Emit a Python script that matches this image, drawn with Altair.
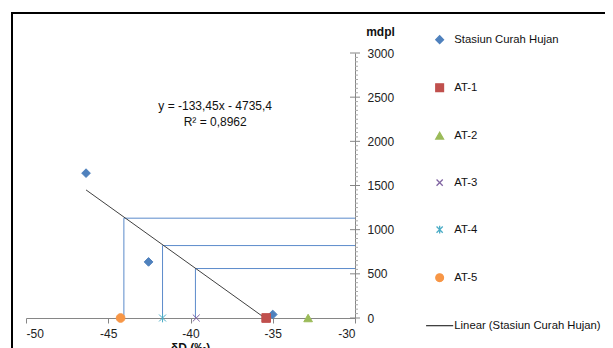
import altair as alt
import pandas as pd

# ---- data ----
stasiun_x = [-46.35, -42.55, -35.0]
stasiun_y = [1640, 635, 40]

at_names = ["AT-1", "AT-2", "AT-3", "AT-4", "AT-5"]
at_x = [-35.4, -32.85, -39.65, -41.7, -44.25]
at_y = [0, 0, 0, 0, 0]

proj_x = [-44.05, -41.7, -39.7]
proj_y = [1130, 820, 560]

trend_x = [-46.35, -35.48]
trend_y = [1450, 0]

x_ticks = [-50, -45, -40, -35, -30]
y_ticks = [0, 500, 1000, 1500, 2000, 2500, 3000]
y_minor = [v for v in range(0, 3001, 50) if v % 500 != 0]

eq_lines = ["y = -133,45x - 4735,4", "R² = 0,8962"]
eq_x = [-38.5, -38.5]
eq_y = [2400, 2220]

series_names = ["Stasiun Curah Hujan"] + at_names + ["Linear (Stasiun Curah Hujan)"]
series_colors = ["#4F81BD", "#C0504D", "#9BBB59", "#8064A2", "#4BACC6", "#F79646", "#404040"]
series_shapes = [
    "diamond", "square", "triangle-up",
    "M-0.8,-0.8L0.8,0.8M-0.8,0.8L0.8,-0.8",
    "M-0.8,-0.8L0.8,0.8M-0.8,0.8L0.8,-0.8M0,-1L0,1",
    "circle",
    "M-3.5,0L3.5,0",
]

# ---- tables ----
pts = pd.DataFrame({
    "series": ["Stasiun Curah Hujan"] * len(stasiun_x) + at_names,
    "x": stasiun_x + at_x,
    "y": stasiun_y + at_y,
})
proj = pd.DataFrame({"px": proj_x, "py": proj_y, "y0": [0] * len(proj_x), "xe": [-30] * len(proj_x)})
trend = pd.DataFrame({"x": trend_x, "y": trend_y})
major = pd.DataFrame({"v": y_ticks})
minor = pd.DataFrame({"v": y_minor})
eq = pd.DataFrame({"t": eq_lines, "x": eq_x, "y": eq_y})

W, H = 329, 265
FONT = "Liberation Sans"
AX = "#868686"
BLUE = "#5B8BCB"
MINUS = "replace(datum.label, '\u2212', '-')"

xscale = alt.Scale(domain=[-50, -30], nice=False, zero=False)
yscale = alt.Scale(domain=[0, 3000], nice=False, zero=False)
xaxis = alt.Axis(values=x_ticks, grid=False, domainColor=AX, tickColor=AX, tickSize=5,
                 format="d", labelExpr=MINUS,
                 labelFontSize=12, labelColor="#222", labelPadding=5, labelFont=FONT,
                 title="δD (‰)", titleFont=FONT, titleFontSize=12, titleFontWeight="bold",
                 titleColor="#111", titleX=164, titleY=29, titleBaseline="middle")
yaxis = alt.Axis(orient="right", values=y_ticks, grid=False, domainColor=AX, ticks=False,
                 format="d",
                 labelFontSize=12, labelColor="#222", labelPadding=12, labelFont=FONT,
                 title="mdpl", titleFont=FONT, titleFontSize=12, titleFontWeight="bold",
                 titleColor="#111", titleAngle=0, titleX=25, titleY=-22,
                 titleAlign="center", titleBaseline="middle")


def X(f):
    return alt.X(f, type="quantitative", scale=xscale, axis=xaxis)


def Y(f):
    return alt.Y(f, type="quantitative", scale=yscale, axis=yaxis)


vert = alt.Chart(proj).mark_rule(color=BLUE, strokeWidth=1).encode(
    x=X("px"), y=Y("y0"), y2=alt.Y2("py"))
horiz = alt.Chart(proj).mark_rule(color=BLUE, strokeWidth=1).encode(
    x=X("px"), x2=alt.X2("xe"), y=Y("py"))
line = alt.Chart(trend).mark_line(color="#404040", strokeWidth=1).encode(x=X("x"), y=Y("y"))

major_t = alt.Chart(major).mark_rule(color=AX, strokeWidth=1).encode(
    x=alt.value(W - 5), x2=alt.value(W + 5), y=Y("v"))
minor_t = alt.Chart(minor).mark_rule(color="#AAAAAA", strokeWidth=1).encode(
    x=alt.value(W), x2=alt.value(W + 3), y=Y("v"))

leg = alt.Legend(title=None, orient="none", legendX=408, legendY=-19, padding=0,
                 symbolSize=60, symbolStrokeWidth=1.3, labelFontSize=11.3, labelFont=FONT,
                 labelColor="#111", labelOffset=9, rowPadding=34, labelLimit=300)

points = alt.Chart(pts).mark_point(size=75, opacity=1, strokeWidth=1).encode(
    x=X("x"), y=Y("y"),
    fill=alt.Fill("series:N", scale=alt.Scale(domain=series_names, range=series_colors), legend=leg),
    stroke=alt.Stroke("series:N", scale=alt.Scale(domain=series_names, range=series_colors), legend=leg),
    shape=alt.Shape("series:N", scale=alt.Scale(domain=series_names, range=series_shapes), legend=leg),
)

eq_text = alt.Chart(eq).mark_text(font=FONT, fontSize=12, color="#111", align="center",
                                  baseline="middle").encode(x=X("x"), y=Y("y"), text="t:N")

border_top = alt.Chart(major).mark_rule(color="#000", strokeWidth=2).encode(
    x=alt.value(-14), x2=alt.value(600), y=alt.value(-40))
border_left = alt.Chart(major).mark_rule(color="#000", strokeWidth=2).encode(
    x=alt.value(-14), y=alt.value(-41), y2=alt.value(320))

chart = alt.layer(
    vert, horiz, line, major_t, minor_t, points, eq_text, border_top, border_left
).properties(
    width=W, height=H,
    autosize=alt.AutoSizeParams(type="none"),
    padding={"left": 18, "top": 45, "right": 250, "bottom": 30},
    background="white",
).configure_view(strokeWidth=0)

chart.save("out.html", embed_options={"renderer": "svg", "actions": False})
